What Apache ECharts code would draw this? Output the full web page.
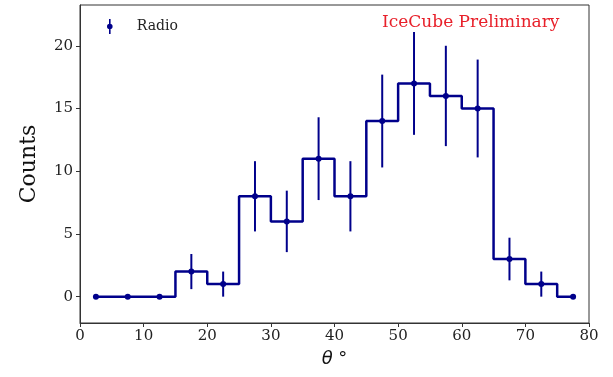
<!DOCTYPE html>
<html>
<head>
<meta charset="utf-8">
<script src="https://cdn.jsdelivr.net/npm/echarts@6/dist/echarts.min.js"></script>
<style>html,body{margin:0;padding:0;background:#fff;}#c{width:613px;height:377px;}</style>
</head>
<body>
<div id="c"></div>
<script>
const binCenters = [2.5, 7.5, 12.5, 17.5, 22.5, 27.5, 32.5, 37.5, 42.5, 47.5, 52.5, 57.5, 62.5, 67.5, 72.5, 77.5];
const counts = [0, 0, 0, 2, 1, 8, 6, 11, 8, 14, 17, 16, 15, 3, 1, 0];
const errors = [0, 0, 0, 1.4, 1.0, 2.8, 2.45, 3.3, 2.8, 3.7, 4.1, 4.0, 3.9, 1.7, 1.0, 0];
const xTicks = [0, 10, 20, 30, 40, 50, 60, 70, 80];
const yTicks = [0, 5, 10, 15, 20];
const seriesName = 'Radio';
const watermark = 'IceCube Preliminary';

const NAVY = '#00008b';
const SERIF = 'DejaVu Serif';
const pts = binCenters.map((x, i) => [x, counts[i], errors[i]]);

const chart = echarts.init(document.getElementById('c'), null, {renderer: 'canvas'});
chart.setOption({
  animation: false,
  backgroundColor: '#fff',
  grid: {left: 80, right: 24, top: 5, bottom: 54, show: true, borderColor: '#333', borderWidth: 1, containLabel: false},
  title: {
    text: watermark, left: 377, top: 9,
    textStyle: {color: '#e8202a', fontFamily: SERIF, fontSize: 17, fontWeight: 'normal'}
  },
  legend: {
    data: [seriesName], left: 102, top: 14, itemWidth: 6, itemHeight: 15,
    icon: 'path://M2.2,0H3.8V15H2.2Z M5.8,7.5A2.8,2.8 0 1 1 0.2,7.5A2.8,2.8 0 1 1 5.8,7.5Z',
    itemStyle: {color: NAVY},
    textStyle: {fontFamily: SERIF, fontSize: 14, color: '#222', padding: [0, 0, 0, 19]}
  },
  xAxis: {
    type: 'value', min: 0, max: 80, interval: 10,
    name: '{t|θ} °', nameLocation: 'middle', nameGap: 27,
    nameTextStyle: {fontFamily: 'DejaVu Sans', fontSize: 18, color: '#111',
      rich: {t: {fontFamily: 'DejaVu Sans', fontStyle: 'italic', fontSize: 18, color: '#111'}}},
    splitLine: {show: false},
    axisLine: {show: true, onZero: false, lineStyle: {color: '#333', width: 1}},
    axisTick: {show: true, length: 4, lineStyle: {color: '#333'}, customValues: xTicks},
    axisLabel: {fontFamily: SERIF, fontSize: 15, color: '#222', margin: 6, customValues: xTicks}
  },
  yAxis: {
    type: 'value', min: -2.1, max: 23.25,
    name: 'Counts', nameLocation: 'middle', nameGap: 40,
    nameTextStyle: {fontFamily: SERIF, fontSize: 22, color: '#111'},
    splitLine: {show: false},
    axisLine: {show: true, onZero: false, lineStyle: {color: '#333', width: 1}},
    axisTick: {show: true, length: 4, lineStyle: {color: '#333'}, customValues: yTicks},
    axisLabel: {fontFamily: SERIF, fontSize: 15, color: '#222', margin: 7, customValues: yTicks}
  },
  series: [
    {
      name: 'step', type: 'line', step: 'middle',
      data: pts.map(p => [p[0], p[1]]),
      lineStyle: {color: NAVY, width: 2.5},
      itemStyle: {color: NAVY},
      symbol: 'circle', symbolSize: 6, showSymbol: true, z: 3
    },
    {
      name: seriesName, type: 'custom',
      data: pts,
      itemStyle: {color: NAVY},
      encode: {x: 0, y: 1},
      z: 2,
      renderItem: function (params, api) {
        const x = api.value(0), y = api.value(1), e = api.value(2);
        if (!e) return null;
        const p1 = api.coord([x, y - e]);
        const p2 = api.coord([x, y + e]);
        return {
          type: 'line',
          shape: {x1: p1[0], y1: p1[1], x2: p2[0], y2: p2[1]},
          style: {stroke: NAVY, lineWidth: 2}
        };
      }
    }
  ]
});
</script>
</body>
</html>
